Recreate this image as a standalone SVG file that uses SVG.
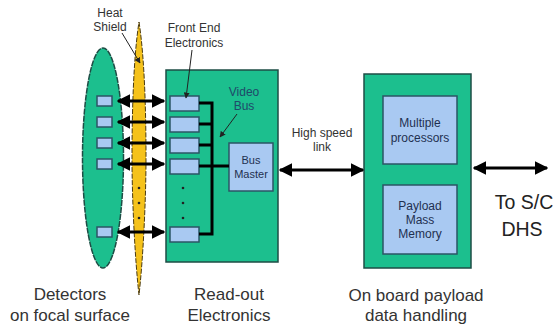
<svg xmlns="http://www.w3.org/2000/svg" width="558" height="327" viewBox="0 0 558 327">
<style>
.g{fill:#1cbf8e;stroke:#1e4d45;stroke-width:1.5}
.b{fill:#a9c9f2;stroke:#2b5566;stroke-width:1.5}
.t{font-family:"Liberation Sans",Arial,sans-serif;text-anchor:middle}
.s{font-size:12px;fill:#1f3050}
.l{font-size:17px;fill:#333}
.c{stroke:#000;stroke-width:3;fill:none}
.p{stroke:#222;stroke-width:1;fill:none}
.dot{fill:#222}
</style>
<defs>
<marker id="ah" viewBox="0 0 10 10" refX="9" refY="5" markerWidth="4.5" markerHeight="4.5" orient="auto-start-reverse" markerUnits="strokeWidth">
<path d="M0,0 L10,5 L0,10 Z" fill="#000"/>
</marker>
<marker id="ps" viewBox="0 0 10 10" refX="9" refY="5" markerWidth="6" markerHeight="6" orient="auto">
<path d="M0,0 L10,5 L0,10 Z" fill="#222"/>
</marker>
</defs>
<rect width="558" height="327" fill="#fff"/>

<g id="detectors">
<ellipse class="g" cx="103" cy="158" rx="20.5" ry="110" stroke-dasharray="6 1"/>
<rect class="b" x="97" y="96" width="15" height="10"/>
<rect class="b" x="97" y="117" width="15" height="10"/>
<rect class="b" x="97" y="138" width="15" height="10"/>
<rect class="b" x="97" y="159" width="15" height="10"/>
<rect class="b" x="97" y="227" width="15" height="10"/>
<text class="t l" x="70" y="300">Detectors</text>
<text class="t l" x="70" y="321">on focal surface</text>
</g>

<g id="heat-shield">
<path d="M139,22 C145,60 146,120 146,158 C146,200 143,260 139,295 C135,260 132,200 132,158 C132,120 133,60 139,22 Z" fill="#f5c21b" stroke="#4a3a10" stroke-width="1" stroke-dasharray="5 1.5"/>
<circle class="dot" cx="139" cy="188" r="1.3"/>
<circle class="dot" cx="139" cy="203" r="1.3"/>
<circle class="dot" cx="139" cy="218" r="1.3"/>
<text class="t s" x="110" y="17" style="fill:#333">Heat</text>
<text class="t s" x="110" y="31" style="fill:#333">Shield</text>
</g>

<g id="readout">
<rect class="g" x="166" y="70" width="112" height="192"/>
<rect class="b" x="170" y="96" width="29" height="15"/>
<rect class="b" x="170" y="117" width="29" height="15"/>
<rect class="b" x="170" y="138" width="29" height="15"/>
<rect class="b" x="170" y="159" width="29" height="15"/>
<rect class="b" x="170" y="227" width="29" height="15"/>
<circle class="dot" cx="183" cy="188" r="1.3"/>
<circle class="dot" cx="183" cy="203" r="1.3"/>
<circle class="dot" cx="183" cy="218" r="1.3"/>
<text class="t s" x="194" y="32" style="fill:#333">Front End</text>
<text class="t s" x="194" y="47" style="fill:#333">Electronics</text>
<text class="t s" x="244" y="96" style="fill:#1f4a6a">Video</text>
<text class="t s" x="244" y="110" style="fill:#1f4a6a">Bus</text>
<text class="t l" x="229" y="300">Read-out</text>
<text class="t l" x="229" y="321">Electronics</text>
</g>

<g id="bus-master">
<rect class="b" x="229" y="143" width="44" height="48"/>
<text class="t s" x="251" y="164" font-size="11" style="font-size:11px">Bus</text>
<text class="t s" x="251" y="178" style="font-size:11px">Master</text>
</g>

<g id="payload">
<rect class="g" x="364" y="74" width="107" height="194"/>
<text class="t l" x="416" y="301">On board payload</text>
<text class="t l" x="416" y="321">data handling</text>
</g>

<g id="processors">
<rect class="b" x="383" y="96" width="74" height="68"/>
<text class="t s" x="420" y="127">Multiple</text>
<text class="t s" x="420" y="142">processors</text>
</g>

<g id="memory">
<rect class="b" x="383" y="185" width="74" height="69"/>
<text class="t s" x="420" y="210">Payload</text>
<text class="t s" x="420" y="224">Mass</text>
<text class="t s" x="420" y="238">Memory</text>
</g>

<g id="sc-dhs">
<text class="t" x="524" y="209" font-size="19.5" fill="#222">To S/C</text>
<text class="t" x="522" y="236" font-size="19.5" fill="#222">DHS</text>
</g>

<g id="connectors">
<line class="c" x1="118" y1="101" x2="164" y2="101" marker-start="url(#ah)" marker-end="url(#ah)"/>
<line class="c" x1="118" y1="122" x2="164" y2="122" marker-start="url(#ah)" marker-end="url(#ah)"/>
<line class="c" x1="118" y1="143" x2="164" y2="143" marker-start="url(#ah)" marker-end="url(#ah)"/>
<line class="c" x1="118" y1="164" x2="164" y2="164" marker-start="url(#ah)" marker-end="url(#ah)"/>
<line class="c" x1="118" y1="232" x2="164" y2="232" marker-start="url(#ah)" marker-end="url(#ah)"/>
<path class="c" d="M199,103 H212 M199,124 H212 M199,145 H212 M199,166 H229 M199,234 H212 M212,101.5 V235.5"/>
<line class="c" x1="280" y1="170" x2="363" y2="170" marker-start="url(#ah)" marker-end="url(#ah)"/>
<line class="c" x1="474" y1="168" x2="547" y2="168" marker-start="url(#ah)" marker-end="url(#ah)"/>
<line class="p" x1="122" y1="33" x2="140" y2="63" marker-end="url(#ps)"/>
<line class="p" x1="192" y1="50" x2="186" y2="98" marker-end="url(#ps)"/>
<line class="p" x1="237" y1="114" x2="220" y2="137" marker-end="url(#ps)"/>
<text class="t s" x="322" y="137" style="fill:#333">High speed</text>
<text class="t s" x="322" y="151" style="fill:#333">link</text>
</g>
</svg>
